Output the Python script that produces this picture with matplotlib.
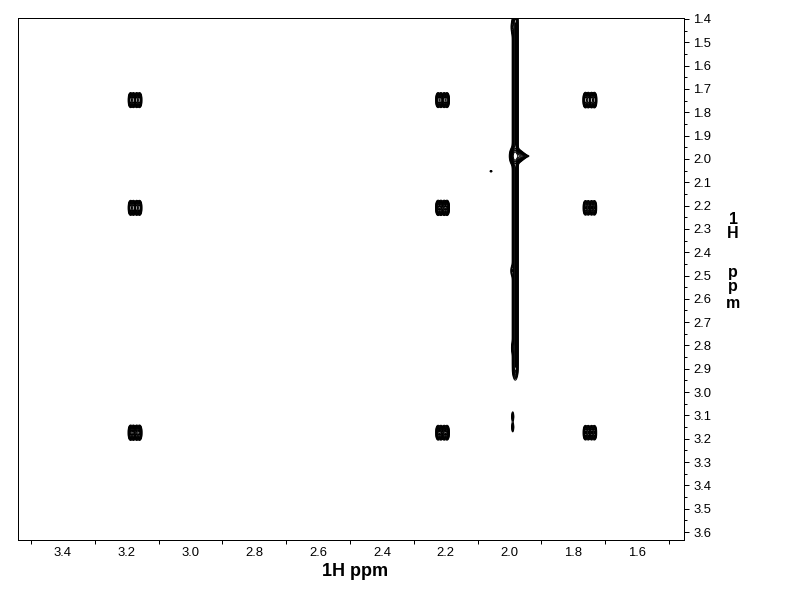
import numpy as np
import matplotlib
matplotlib.use('Agg')
import matplotlib.pyplot as plt

plt.rcParams['font.family'] = ['Liberation Sans', 'DejaVu Sans']

# peak positions (ppm)
shifts = [3.174, 2.210, 1.748]
amps = [[1.0, 1.0, 1.4],   # row at 1.748
        [1.0, 1.2, 0.8],   # row at 2.210
        [1.2, 0.9, 0.8]]   # row at 3.174
# multiplet line offsets (ppm) inside each peak
split_x = [-0.014, -0.005, 0.005, 0.014]
split_y = [-0.012, 0.0, 0.012]

# solvent ridge and water blob
ridge_x = 1.982
ridge_top = 1.39
ridge_bot = 2.92
water_x = 1.984
water_y = 1.988
# small stray signals (x, y, amp, sx, sy)
spots = [(2.058, 2.053, 0.25, 0.002, 0.002),
         (1.990, 3.105, 0.35, 0.002, 0.012),
         (1.990, 3.150, 0.35, 0.002, 0.012),
         (1.991, 1.435, 0.5, 0.002, 0.015),
         (1.992, 2.480, 0.4, 0.002, 0.012),
         (1.990, 2.810, 0.4, 0.002, 0.012)]

levels = [0.08, 0.14, 0.22, 0.32, 0.45, 0.6, 0.8, 1.05, 1.4, 1.9, 2.6, 3.5]

x = np.arange(3.56, 1.44, -0.0012)
y = np.arange(1.38, 3.65, 0.0012)
X, Y = np.meshgrid(x, y)
Z = np.zeros_like(X)

for i, py in enumerate([1.748, 2.210, 3.174]):
    for j, px in enumerate(shifts):
        for dx in split_x:
            for dy in split_y:
                Z += amps[i][j] * np.exp(-((X - px - dx) ** 2) / (2 * 0.0030 ** 2)
                                         - ((Y - py - dy) ** 2) / (2 * 0.009 ** 2))

# ridge: narrow in x, long in y
prof = 1 / (1 + np.exp(-(Y - ridge_top) / 0.01)) / (1 + np.exp((Y - ridge_bot) / 0.01))
Z += 1.5 * np.exp(-((X - ridge_x) ** 2) / (2 * 0.004 ** 2)) * prof
# water blob: steep on the high-ppm side, tailing toward lower ppm
sx = np.where(X < water_x, 0.016, 0.006)
sy = 0.016 * np.clip(1 - np.clip(water_x - X, 0, None) / 0.05, 0.2, 1)
Z += 4.0 * np.exp(-((X - water_x) ** 2) / (2 * sx ** 2) - ((Y - water_y) ** 2) / (2 * sy ** 2))
for (cx, cy, a, wx, wy) in spots:
    Z += a * np.exp(-((X - cx) ** 2) / (2 * wx ** 2) - ((Y - cy) ** 2) / (2 * wy ** 2))

fig = plt.figure(figsize=(11, 8.5), dpi=72)
ax = fig.add_axes([18/792, 1-540/612, 666/792, 522/612])
ax.contour(X, Y, Z, levels=levels, colors='black', linewidths=1.0)

ax.set_xlim(3.541, 1.453)
ax.set_ylim(3.634, 1.396)

ax.yaxis.tick_right()
ax.set_yticks(np.round(np.arange(1.4, 3.61, 0.1), 1))
ax.set_yticks(np.round(np.arange(1.45, 3.61, 0.1), 2), minor=True)
ax.set_yticklabels(['%.1f' % v for v in np.arange(1.4, 3.61, 0.1)])
ax.set_xticks(np.round(np.arange(3.4, 1.55, -0.2), 1))
ax.set_xticklabels(['%.1f' % v for v in np.arange(3.4, 1.55, -0.2)])
ax.set_xticks(np.round(np.arange(3.5, 1.45, -0.2), 1), minor=True)
ax.tick_params(axis='y', which='major', direction='out', length=5, width=1, labelsize=13, pad=4, colors='black')
ax.tick_params(axis='y', which='minor', direction='out', length=3, width=1)
ax.tick_params(axis='x', which='major', direction='out', length=0, labelsize=13, pad=7)
ax.tick_params(axis='x', which='minor', direction='out', length=4, width=1)
for s in ax.spines.values():
    s.set_linewidth(1.0)

fig.text(355/792, 1-571/612, '1H ppm', ha='center', va='center', fontsize=18, fontweight='bold')

# vertical stacked y-axis title
ylab_chars = ['1', 'H', 'p', 'p', 'm']
ylab_pos = [219, 233, 272, 287, 304]
for ch, yp in zip(ylab_chars, ylab_pos):
    fig.text(733/792, 1-yp/612, ch, ha='center', va='center', fontsize=16, fontweight='bold')

fig.savefig('out.png', dpi=72)
